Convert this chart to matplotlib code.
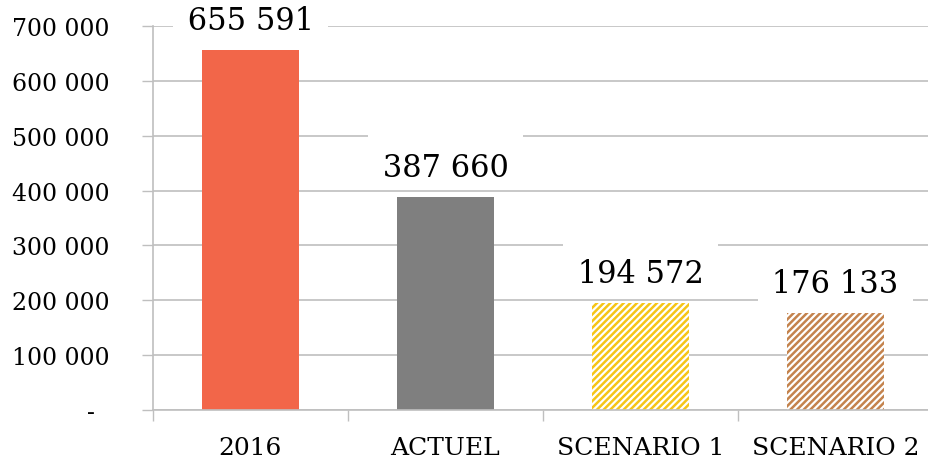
import matplotlib.pyplot as plt
from matplotlib.ticker import FixedLocator

categories = ["2016", "ACTUEL", "SCENARIO 1", "SCENARIO 2"]
values = [655591, 387660, 194572, 176133]
yticks = [0, 100000, 200000, 300000, 400000, 500000, 600000, 700000]

colors = ["#F26649", "#7F7F7F", "#F5C518", "#C4834D"]
hatched = [False, False, True, True]
grid_col = "#BFBFBF"

plt.rcParams["font.family"] = "DejaVu Serif"
plt.rcParams["hatch.linewidth"] = 1.8

fig = plt.figure(figsize=(9.29, 4.64), dpi=100)
ax = fig.add_axes([153 / 929, 53 / 464, 780 / 929, 384 / 464])

x = range(len(categories))
for i, (v, c, h) in enumerate(zip(values, colors, hatched)):
    if h:
        ax.bar(i, v, width=0.5, facecolor="white", edgecolor=c, hatch="/////",
               linewidth=0, zorder=2)
    else:
        ax.bar(i, v, width=0.5, color=c, linewidth=0, zorder=2)
    # empty first line gives the white label box extra room above the digits
    label = "\n " + f"{v:,}".replace(",", " ") + " "
    ax.annotate(label, (i, v), xytext=(0, 14), textcoords="offset pixels",
                ha="center", va="bottom", fontsize=22, color="black",
                linespacing=0.3, zorder=4,
                bbox=dict(boxstyle="square,pad=0.15", fc="white", ec="none"))

ax.set_xlim(-0.5, 3.5)
ax.set_ylim(0, 700000)
ax.set_yticks(yticks)
ax.set_yticklabels(["-  "] + [f"{t:,}".replace(",", " ") for t in yticks[1:]])
ax.set_xticks(list(x))
ax.set_xticklabels(categories)
ax.xaxis.set_minor_locator(FixedLocator([-0.5, 0.5, 1.5, 2.5, 3.5]))

ax.tick_params(axis="y", length=8, width=1, color=grid_col, pad=23, labelsize=17)
ax.tick_params(axis="x", which="major", length=0, pad=19, labelsize=18)
ax.tick_params(axis="x", which="minor", length=8, width=1, color=grid_col)

ax.yaxis.grid(True, color=grid_col, linewidth=1.2, zorder=0)
ax.set_axisbelow(True)
for s in ["top", "right"]:
    ax.spines[s].set_visible(False)
for s in ["left", "bottom"]:
    ax.spines[s].set_color(grid_col)
    ax.spines[s].set_linewidth(1.2)

fig.savefig("out.png", dpi=100)
